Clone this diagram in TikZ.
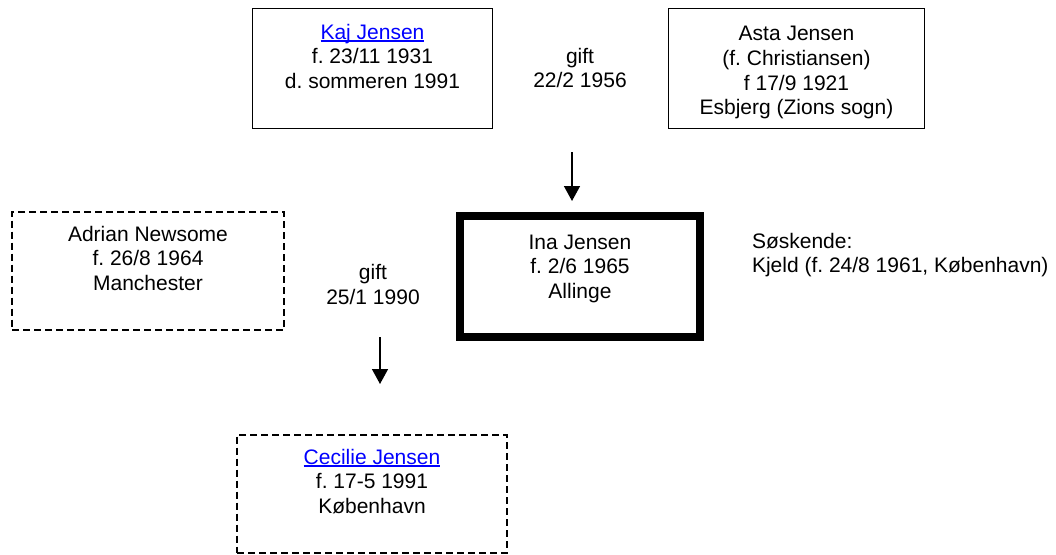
\documentclass[tikz,border=0pt]{standalone}
\usepackage{fontspec}
\setmainfont{Liberation Sans}
\usetikzlibrary{arrows.meta}
\definecolor{linkblue}{RGB}{0,0,255}
\newcommand{\lnk}[1]{\textcolor{linkblue}{\setbox0\hbox{#1}\rlap{\rule[-2.5pt]{\wd0}{1.3pt}}\box0}}
\frenchspacing
\begin{document}
\begin{tikzpicture}[x=1pt,y=-1pt,
  every node/.style={font=\fontsize{21}{24.6}\selectfont, inner sep=0pt, outer sep=0pt},
  person/.style={draw, line width=1.5pt, align=center, minimum width=#1, minimum height=120pt},
  dashperson/.style={draw, line width=2pt, dash pattern=on 7pt off 4pt, align=center, minimum width=#1, minimum height=118pt},
  mainperson/.style={draw, line width=8pt, align=center, minimum width=240pt, minimum height=121pt},
  lbl/.style={align=center},
  arr/.style={line width=1.5pt, -{Triangle[width=16pt,length=15pt]}}
]
\useasboundingbox (0,0) rectangle (1056,554);

\node[person=240pt] (kaj) at (372.5,68.5) {\lnk{Kaj Jensen}\\f. 23/11 1931\\d. sommeren 1991\\[-7pt]\strut};
\node[person=256pt] (asta) at (796.5,68.5) {\rule{0pt}{23pt}Asta Jensen\\(f. Christiansen)\\f 17/9 1921\\Esbjerg (Zions sogn)};
\node[lbl] (gift1) at (580,68) {gift\\22/2 1956};

\node[mainperson] (ina) at (580,276.5) {Ina Jensen\\f. 2/6 1965\\Allinge\\[-12pt]\strut};
\node[dashperson=272pt] (adrian) at (148,270.5) {Adrian Newsome\\f. 26/8 1964\\Manchester\\[-7pt]\strut};
\node[lbl] (gift2) at (373,284.5) {gift\\25/1 1990};
\node[align=left, anchor=west] (sosk) at (752,255) {Søskende:\\Kjeld (f. 24/8 1961, København)};

\node[dashperson=270pt] (cecilie) at (372,493.5) {\lnk{Cecilie Jensen}\\f. 17-5 1991\\København\\[-7pt]\strut};

\coordinate (a1s) at (572,152);
\coordinate (a1e) at (572,201);
\coordinate (a2s) at (380,337);
\coordinate (a2e) at (380,384);
\draw[arr] (a1s) -- (a1e);
\draw[arr] (a2s) -- (a2e);
\end{tikzpicture}
\end{document}
